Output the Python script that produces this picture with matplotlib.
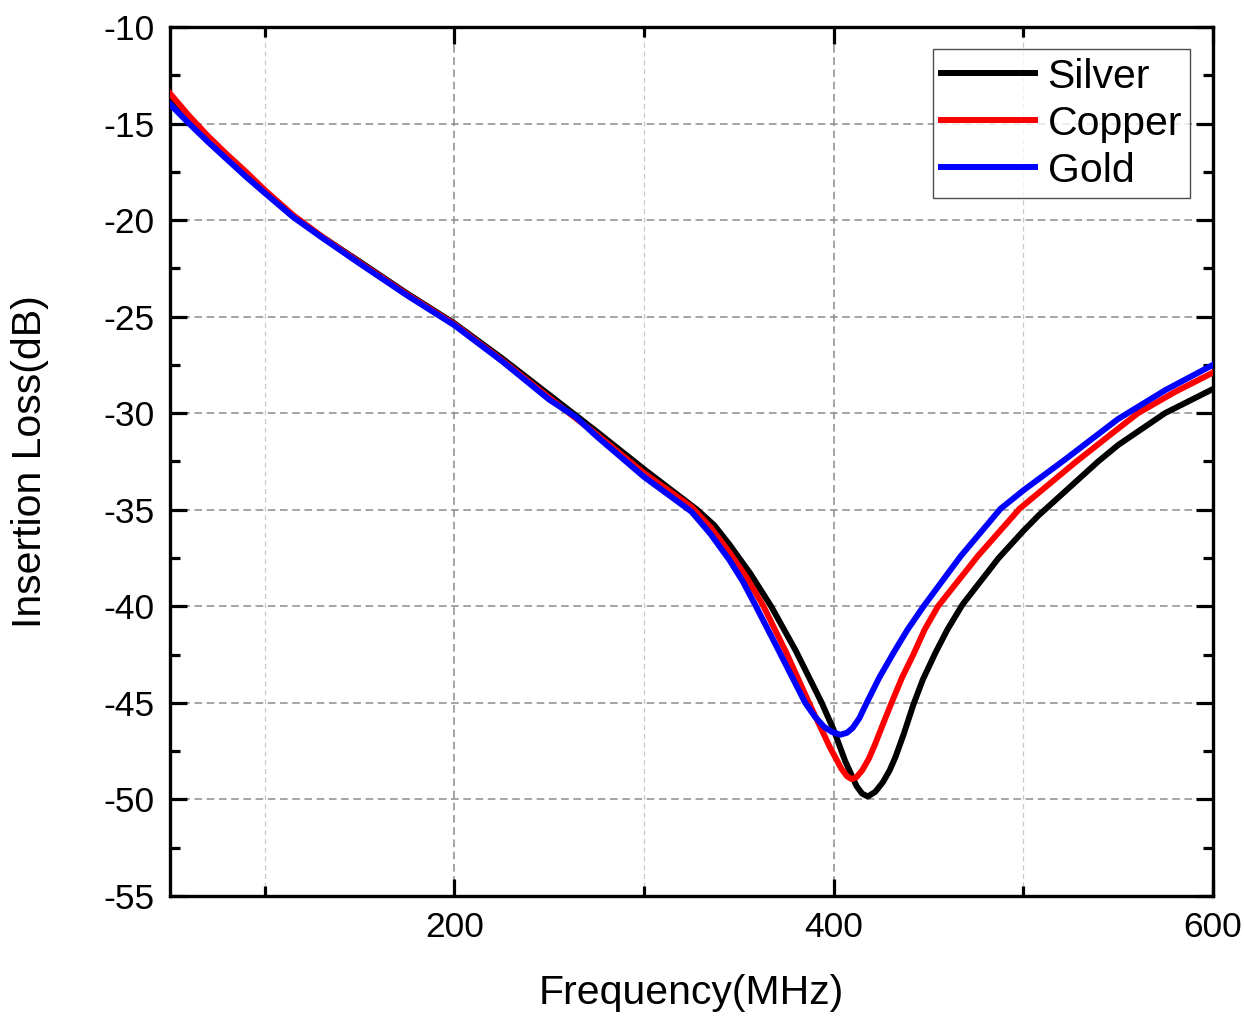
import matplotlib
matplotlib.use('Agg')
import matplotlib.pyplot as plt
from matplotlib.ticker import MultipleLocator

plt.rcParams['font.family'] = ['Liberation Sans', 'DejaVu Sans']
plt.rcParams['axes.unicode_minus'] = False

# Silver
silver_f = [50, 60, 70, 80, 90, 100, 115, 130, 150, 175, 200, 225, 250, 275, 300,
            314, 328, 337, 345, 356, 367, 380, 393.7, 400, 406, 412, 415, 418,
            422, 426, 429.5, 432.6, 437, 442, 447, 453.7, 460, 468, 487, 500,
            508, 539.5, 550, 574.7, 600]
silver_il = [-13.75, -14.8, -15.8, -16.75, -17.65, -18.5, -19.8, -20.85, -22.15,
             -23.8, -25.35, -27.15, -29.05, -30.95, -32.9, -33.95, -35.0, -35.8,
             -36.8, -38.3, -40.0, -42.3, -45.0, -46.4, -48.0, -49.3, -49.7, -49.85,
             -49.6, -49.1, -48.5, -47.8, -46.6, -45.1, -43.8, -42.4, -41.2, -39.9,
             -37.5, -36.1, -35.3, -32.5, -31.65, -30.0, -28.75]

# Copper
copper_f = [50, 60, 70, 80, 90, 100, 115, 130, 150, 175, 200, 225, 250, 275, 300,
            325, 335, 345, 354, 363, 375, 387, 398, 404, 407, 409.5, 412, 415,
            418.5, 422, 426, 430.5, 436, 442, 448, 455, 476, 498, 528, 550,
            560.5, 580, 600]
copper_il = [-13.45, -14.6, -15.65, -16.6, -17.5, -18.45, -19.75, -20.85, -22.2,
             -23.85, -25.4, -27.25, -29.2, -31.1, -33.1, -34.85, -35.9, -37.2,
             -38.5, -40.0, -42.4, -45.0, -47.3, -48.4, -48.8, -48.95, -48.85,
             -48.5, -47.9, -47.1, -46.1, -45.0, -43.7, -42.5, -41.2, -40.0, -37.4,
             -34.95, -32.5, -30.8, -30.0, -28.9, -27.9]

# Gold
gold_f = [50, 60, 70, 80, 90, 100, 115, 130, 150, 175, 200, 225, 250, 264, 275,
          300, 325, 335, 345, 352, 359, 370, 385, 390, 395, 399, 403.5, 407, 410,
          413.5, 417.4, 424, 431.6, 439, 447.4, 467, 488, 500, 522, 550, 575, 600]
gold_il = [-14.0, -15.0, -15.95, -16.85, -17.75, -18.6, -19.85, -20.9, -22.25,
           -23.9, -25.45, -27.3, -29.3, -30.2, -31.2, -33.3, -35.1, -36.25, -37.6,
           -38.7, -40.0, -42.1, -45.0, -45.7, -46.25, -46.5, -46.65, -46.55, -46.3,
           -45.8, -45.0, -43.7, -42.4, -41.2, -40.0, -37.4, -34.95, -34.0, -32.4,
           -30.3, -28.8, -27.5]


def main():
    fig = plt.figure(figsize=(12.44, 10.17), dpi=100)
    ax = fig.add_axes([0.1367, 0.119, 0.8383, 0.8545])

    lw = 4.3
    ax.plot(silver_f, silver_il, color='black', lw=lw, label='Silver', zorder=3,
            solid_joinstyle='round')
    ax.plot(copper_f, copper_il, color='#ff0000', lw=lw, label='Copper', zorder=4,
            solid_joinstyle='round')
    ax.plot(gold_f, gold_il, color='#0000ff', lw=lw, label='Gold', zorder=5,
            solid_joinstyle='round')

    ax.set_xlim(50, 600)
    ax.set_ylim(-55, -10)
    ax.xaxis.set_major_locator(MultipleLocator(200))
    ax.xaxis.set_minor_locator(MultipleLocator(100))
    ax.yaxis.set_major_locator(MultipleLocator(5))
    ax.yaxis.set_minor_locator(MultipleLocator(2.5))

    # сетка: основная тёмная, дополнительная по x светлая
    ax.grid(which='major', axis='both', color='#8c8c8c', ls=(0, (5, 3)), lw=1.1, zorder=1)
    ax.grid(which='minor', axis='x', color='#c8c8c8', ls=(0, (4, 3)), lw=0.9, zorder=1)

    ax.tick_params(which='both', direction='in', top=True, right=True,
                   width=2.3, labelsize=25.5, pad=11)
    ax.tick_params(which='major', length=12)
    ax.tick_params(which='minor', length=7)
    for sp in ax.spines.values():
        sp.set_linewidth(2.4)

    ax.set_xlabel('Frequency(MHz)', fontsize=29.5)
    ax.set_ylabel('Insertion Loss(dB)', fontsize=29.5)
    ax.xaxis.set_label_coords(0.5, -0.09)
    ax.yaxis.set_label_coords(-0.116, 0.5)

    leg = ax.legend(loc='upper right', fontsize=29.5, frameon=True, fancybox=False,
                    edgecolor='#222222', handlelength=2.3, handletextpad=0.3,
                    labelspacing=0.22, borderpad=0.2, borderaxespad=0.55)
    leg.get_frame().set_linewidth(1.0)
    for line in leg.get_lines():
        line.set_linewidth(lw)
    leg.set_zorder(10)

    fig.savefig('out.png', dpi=100)


if __name__ == '__main__':
    main()
